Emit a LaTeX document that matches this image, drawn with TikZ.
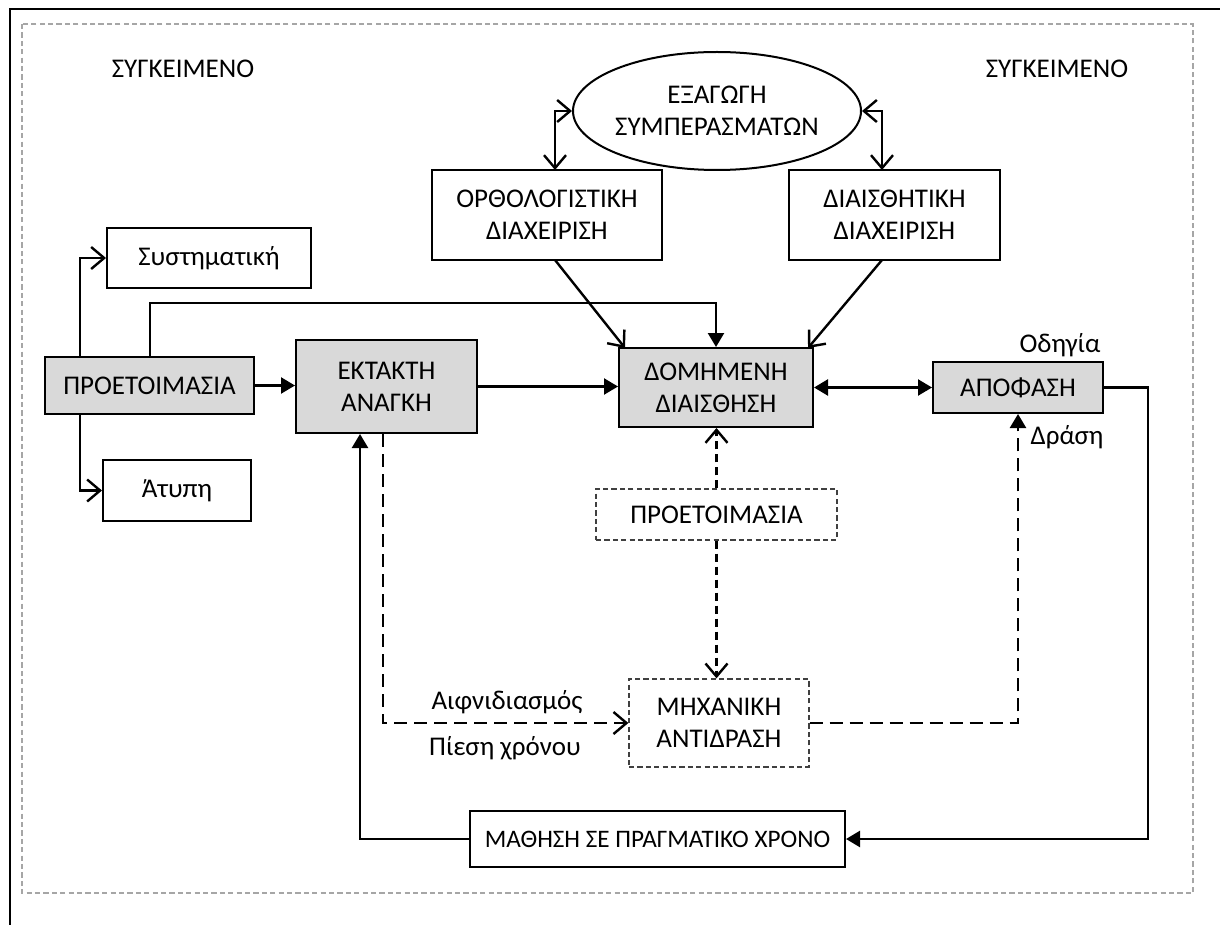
\documentclass[tikz,border=0pt]{standalone}
\usepackage{fontspec}
\setmainfont{Carlito}
\usetikzlibrary{arrows.meta,shapes.geometric}
\definecolor{boxgray}{HTML}{D9D9D9}
\definecolor{framegray}{HTML}{A6A6A6}
\definecolor{dashdark}{HTML}{404040}
\begin{document}
\begin{tikzpicture}[x=0.5pt,y=-0.5pt,
  font=\fontsize{13.5}{16}\selectfont,
  box/.style={draw,line width=1pt,inner sep=0pt,align=center},
  gbox/.style={box,fill=boxgray},
  dbox/.style={draw=dashdark,line width=0.65pt,dash pattern=on 2.6pt off 1.6pt,inner sep=0pt,align=center},
  ln/.style={line width=1.2pt},
  opn/.style={ln,-{Straight Barb[length=6.5pt,width=11pt,line width=1.2pt]}},
  opnboth/.style={ln,{Straight Barb[length=6.5pt,width=11pt,line width=1.2pt]}-{Straight Barb[length=6.5pt,width=11pt,line width=1.2pt]}},
  fil/.style={ln,-{Triangle[length=7pt,width=8pt]}},
  filboth/.style={ln,{Triangle[length=7pt,width=8pt]}-{Triangle[length=7pt,width=8pt]}},
  longdash/.style={dash pattern=on 6.5pt off 3.5pt},
  meddash/.style={dash pattern=on 4pt off 2.5pt},
  lbl/.style={inner sep=0pt}
]
\useasboundingbox (0,0) rectangle (1220,925);
% frames
\draw[line width=1.1pt] (10,925) -- (10,9) -- (1220,9);
\draw[framegray,line width=0.75pt,dash pattern=on 2.6pt off 1.6pt] (22,24) rectangle (1193,893);

% labels
\node[lbl] (ctxL) at (183,69) {ΣΥΓΚΕΙΜΕΝΟ};
\node[lbl] (ctxR) at (1057,69) {ΣΥΓΚΕΙΜΕΝΟ};

% nodes
\node[gbox,minimum width=104.5pt,minimum height=28.5pt] (prep) at (149.5,385.5) {ΠΡΟΕΤΟΙΜΑΣΙΑ};
\node[box,minimum width=102pt,minimum height=30pt] (syst) at (209,258) {Συστηματική};
\node[box,minimum width=74pt,minimum height=30.5pt] (atyp) at (177,490.5) {Άτυπη};
\node[gbox,minimum width=90.5pt,minimum height=46.5pt] (ekt) at (386.5,386.5) {ΕΚΤΑΚΤΗ\\ΑΝΑΓΚΗ};
\node[gbox,minimum width=97pt,minimum height=39.5pt] (dom) at (716,387.5) {ΔΟΜΗΜΕΝΗ\\ΔΙΑΙΣΘΗΣΗ};
\node[box,minimum width=115pt,minimum height=45pt] (orth) at (547,215) {ΟΡΘΟΛΟΓΙΣΤΙΚΗ\\ΔΙΑΧΕΙΡΙΣΗ};
\node[box,minimum width=105.5pt,minimum height=45pt] (diais) at (894.5,215) {ΔΙΑΙΣΘΗΤΙΚΗ\\ΔΙΑΧΕΙΡΙΣΗ};
\node[draw,ellipse,line width=1pt,inner sep=0pt,align=center,minimum width=120.5pt,minimum height=59pt] (ell) at (717,111) {ΕΞΑΓΩΓΗ\\ΣΥΜΠΕΡΑΣΜΑΤΩΝ};
\node[gbox,minimum width=85pt,minimum height=25.5pt] (apof) at (1018,387.5) {ΑΠΟΦΑΣΗ};
\node[dbox,minimum width=120.5pt,minimum height=25.5pt] (prep2) at (716.5,514.5) {ΠΡΟΕΤΟΙΜΑΣΙΑ};
\node[dbox,minimum width=90pt,minimum height=44pt] (mix) at (719,723) {ΜΗΧΑΝΙΚΗ\\ΑΝΤΙΔΡΑΣΗ};
\node[box,minimum width=187.5pt,minimum height=28pt,font=\fontsize{12.6}{16}\selectfont] (math) at (657.5,839) {ΜΑΘΗΣΗ ΣΕ ΠΡΑΓΜΑΤΙΚΟ ΧΡΟΝΟ};

\node[lbl] (odig) at (1060,345) {Οδηγία};
\node[lbl] (drasi) at (1067,437) {Δράση};
\node[lbl] (aifn) at (507,702) {Αιφνιδιασμός};
\node[lbl] (pies) at (505,748) {Πίεση χρόνου};

% helper coordinates
\coordinate (cx1) at (80,0);
\coordinate (cx2) at (150,303);
\coordinate (o1) at (555,170);
\coordinate (d1) at (882,170);
\coordinate (o2) at (555,260);
\coordinate (d2) at (882,260);
\coordinate (dnw) at (625,348);
\coordinate (dne) at (808,348);
\coordinate (a1) at (1148,839);
\coordinate (e1) at (360,0);
\coordinate (e2) at (383,0);

% connectors
\draw[opn] (prep.north -| cx1) |- (syst.west);
\draw[opn] (prep.south -| cx1) |- (atyp.west);
\draw[fil] (prep.north -| cx2) -- (cx2) -| (dom.north);
\draw[fil] (prep.east) -- (prep.east -| ekt.west);
\draw[fil] (ekt.east) -- (ekt.east -| dom.west);
\draw[opnboth] (ell.west) -| (o1);
\draw[opnboth] (ell.east) -| (d1);
\draw[opn] (o2) -- (dnw);
\draw[opn] (d2) -- (dne);
\draw[filboth] (dom.east) -- (dom.east -| apof.west);
\draw[fil] (apof.east) -| (a1) -- (math.east);
\draw[fil] (math.west) -| (ekt.south -| e1);
\draw[opn,longdash] (ekt.south -| e2) |- (mix.west);
\draw[fil,longdash] (mix.east) -| (apof.south);
\draw[opn,meddash] (prep2.north) -- (prep2.north |- dom.south);
\draw[opn,meddash] (prep2.south) -- (prep2.south |- mix.north);
\end{tikzpicture}
\end{document}
